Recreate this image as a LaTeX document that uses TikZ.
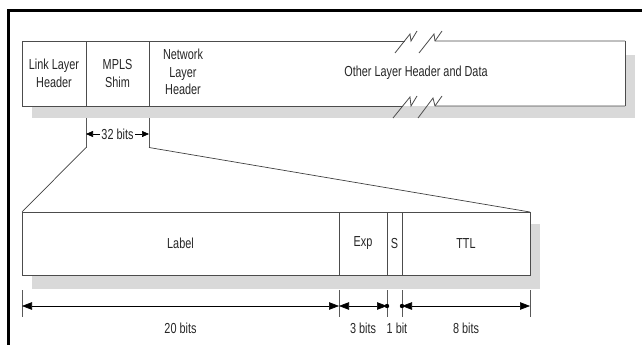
\documentclass[tikz,border=0pt]{standalone}
\usepackage{fontspec}
\newfontfamily\narrowsans{Liberation Sans}[FakeStretch=0.75]
\usetikzlibrary{arrows.meta}
\begin{document}
\begin{tikzpicture}[x=1pt,y=-1pt,
  txt/.style={font=\narrowsans\fontsize{14.5}{17.5}\selectfont, text=black!85, align=center, inner sep=0pt},
  boxline/.style={draw=black!70, line width=0.8pt},
  field/.style={boxline, fill=white, txt, anchor=north west, outer sep=0pt},
  shadowfill/.style={fill=black!15, draw=none},
  extline/.style={draw=black!65, line width=0.6pt},
  frameline/.style={draw=black, line width=3pt},
  dimarrow/.style={draw=black, line width=0.6pt, {Triangle[length=10pt,width=7.5pt]}-{Triangle[length=10pt,width=7.5pt]}},
  smallarrow/.style={draw=black, line width=0.6pt, {Triangle[length=7pt,width=6pt]}-{Triangle[length=7pt,width=6pt]}},
  fanline/.style={draw=black!75, line width=0.7pt}
]
\useasboundingbox (0,0) rectangle (642,345);
% frame
\draw[frameline] (8.5,345) -- (8.5,11) -- (642,11);

% ---------- top packet ----------
\fill[shadowfill] (32,55) rectangle (635,118);
\fill[white] (22,41) rectangle (625,106);
\node[field, minimum width=64pt, minimum height=65pt] (link) at (22,41) {Link Layer\\Header};
\node[field, minimum width=63pt, minimum height=65pt] (mpls) at (86,41) {MPLS\\Shim};
\coordinate (restne) at (625,41);
\coordinate (restse) at (625,106);
\draw[boxline] (restne) -- (restse);
% broken top edge
\draw[boxline] (mpls.north east) -- (404.5,41);
\draw[boxline] (395,53) -- (410,34) -- (411,41) -- (417,31);
\draw[boxline] (419,53) -- (434,34) -- (435,41) -- (restne);
\draw[boxline] (435,41) -- (442,31);
% broken bottom edge
\draw[boxline] (mpls.south east) -- (402.7,106);
\draw[boxline] (393,118) -- (410,97) -- (411,106) -- (417,96);
\draw[boxline] (418,118) -- (433,98) -- (435,106) -- (restse);
\draw[boxline] (435,106) -- (442,96);
\node[txt] (net) at (183,72) {Network\\Layer\\Header};
\node[txt] (other) at (416,73) {Other Layer Header and Data};

% 32 bits
\coordinate (a1) at (86,118);
\coordinate (a2) at (86,147.5);
\coordinate (b1) at (149,118);
\coordinate (b2) at (149,147.5);
\draw[extline] (a1) -- (a2);
\draw[extline] (b1) -- (b2);
\draw[smallarrow] (86,134) -- (149,134);
\node[txt, fill=white, inner xsep=1.5pt, inner ysep=1pt] (bits32) at (117.5,134) {32 bits};

% ---------- bottom label stack entry ----------
\fill[shadowfill] (32,224) rectangle (540,289);
\node[field, minimum width=317pt, minimum height=63pt] (label) at (22,212) {Label};
\node[field, minimum width=48pt, minimum height=63pt] (exp) at (339,212) {Exp};
\node[field, minimum width=15pt, minimum height=63pt] (s) at (387,212) {S};
\node[field, minimum width=128pt, minimum height=63pt] (ttl) at (402,212) {TTL};

% fan lines
\draw[fanline] (a2) -- (label.north west);
\draw[fanline] (b2) -- (ttl.north east);

% extension lines
\foreach \n/\x in {e0/22,e1/339,e2/387,e3/402,e4/530}{
  \coordinate (\n t) at (\x,290);
  \coordinate (\n b) at (\x,317);
  \coordinate (\n) at (\x,306);
  \draw[extline] (\n t) -- (\n b);
}
\draw[dimarrow] (e0) -- (e1);
\draw[dimarrow] (e1) -- (e2);
\draw[dimarrow] (e3) -- (e4);
\fill (e2) circle (2.2pt);
\fill (e3) circle (2.2pt);

\node[txt] (d20) at (180.5,328) {20 bits};
\node[txt] (d3) at (363,328) {3 bits};
\node[txt] (d1) at (397,328) {1 bit};
\node[txt] (d8) at (466,328) {8 bits};
\end{tikzpicture}
\end{document}
